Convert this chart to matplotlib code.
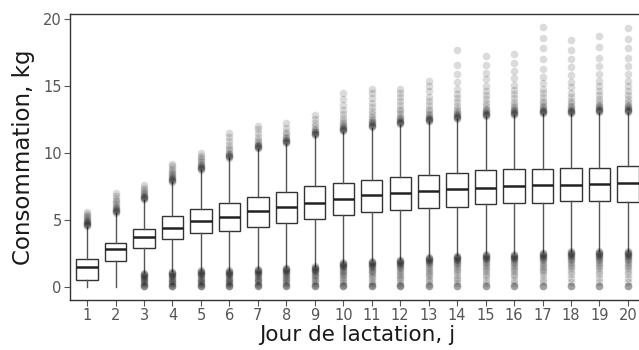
import matplotlib
matplotlib.use("Agg")
from matplotlib import pyplot as plt

# Jours de lactation et statistiques des boites (kg)
days = list(range(1, 21))
q1 = [0.55, 1.95, 2.9, 3.6, 4.0, 4.2, 4.5, 4.8, 5.1, 5.4,
      5.6, 5.75, 5.9, 6.0, 6.2, 6.3, 6.3, 6.4, 6.4, 6.35]
medians = [1.5, 2.8, 3.75, 4.4, 4.9, 5.25, 5.65, 5.95, 6.3, 6.55,
           6.85, 7.0, 7.15, 7.3, 7.4, 7.5, 7.6, 7.6, 7.7, 7.75]
q3 = [2.1, 3.3, 4.3, 5.3, 5.8, 6.3, 6.7, 7.1, 7.5, 7.75,
      8.0, 8.2, 8.35, 8.5, 8.7, 8.8, 8.8, 8.9, 8.9, 9.0]
whisker_low = [0.0, 0.0, 1.1, 1.2, 1.3, 1.3, 1.4, 1.5, 1.6, 1.9,
               2.0, 2.1, 2.3, 2.4, 2.5, 2.5, 2.6, 2.7, 2.7, 2.7]
whisker_high = [4.5, 5.5, 6.5, 7.8, 8.7, 9.6, 10.3, 10.7, 11.3, 11.6,
                11.9, 12.1, 12.3, 12.5, 12.7, 12.8, 12.9, 12.9, 13.0, 13.0]

# Valeurs aberrantes hautes
high_outliers = [
    [4.55, 4.6, 4.65, 4.7, 4.75, 4.8, 4.85, 4.9, 5.0, 5.1, 5.2, 5.3, 5.45, 5.6],
    [5.55, 5.6, 5.65, 5.7, 5.75, 5.8, 5.9, 6.0, 6.1, 6.25, 6.4, 6.6, 6.8, 7.0],
    [6.55, 6.6, 6.65, 6.7, 6.75, 6.8, 6.9, 7.0, 7.1, 7.25, 7.4, 7.6],
    [7.85, 7.9, 7.95, 8.0, 8.05, 8.1, 8.2, 8.3, 8.4, 8.5, 8.65, 8.8, 9.0, 9.2],
    [8.75, 8.8, 8.85, 8.9, 8.95, 9.0, 9.1, 9.2, 9.35, 9.5, 9.65, 9.8, 10.0],
    [9.65, 9.7, 9.75, 9.8, 9.85, 9.9, 10.0, 10.2, 10.4, 10.6, 10.9, 11.2, 11.5],
    [10.35, 10.4, 10.45, 10.5, 10.55, 10.6, 10.7, 10.8, 11.0, 11.2, 11.5, 11.8, 12.0],
    [10.75, 10.8, 10.85, 10.9, 10.95, 11.0, 11.1, 11.2, 11.4, 11.6, 11.9, 12.2],
    [11.35, 11.4, 11.45, 11.5, 11.55, 11.6, 11.7, 11.8, 12.0, 12.2, 12.5, 12.8],
    [11.65, 11.7, 11.75, 11.8, 11.85, 11.9, 12.0, 12.1, 12.2, 12.4, 12.6, 12.9, 13.2, 13.6, 14.0, 14.5],
    [11.95, 12.0, 12.05, 12.1, 12.15, 12.2, 12.3, 12.4, 12.5, 12.7, 12.9, 13.1, 13.4, 13.7, 14.1, 14.5, 14.8],
    [12.15, 12.2, 12.25, 12.3, 12.35, 12.4, 12.5, 12.6, 12.7, 12.9, 13.1, 13.3, 13.6, 13.9, 14.2, 14.5, 14.8],
    [12.35, 12.4, 12.45, 12.5, 12.55, 12.6, 12.7, 12.8, 12.9, 13.1, 13.3, 13.6, 13.9, 14.2, 14.6, 15.0, 15.4],
    [12.55, 12.6, 12.65, 12.7, 12.75, 12.8, 12.9, 13.0, 13.1, 13.3, 13.5, 13.8, 14.1, 14.4, 14.8, 15.3,
     15.9, 16.6, 17.7],
    [12.75, 12.8, 12.85, 12.9, 12.95, 13.0, 13.1, 13.2, 13.3, 13.5, 13.7, 14.0, 14.3, 14.6, 15.0, 15.5,
     16.0, 16.6, 17.2],
    [12.85, 12.9, 12.95, 13.0, 13.05, 13.1, 13.2, 13.3, 13.4, 13.6, 13.8, 14.1, 14.4, 14.7, 15.1, 15.6,
     16.1, 16.7, 17.4],
    [12.95, 13.0, 13.05, 13.1, 13.15, 13.2, 13.3, 13.4, 13.5, 13.7, 13.9, 14.2, 14.5, 14.8, 15.2, 15.7,
     16.3, 17.0, 17.8, 18.6, 19.4],
    [12.95, 13.0, 13.05, 13.1, 13.15, 13.2, 13.3, 13.4, 13.5, 13.7, 13.9, 14.2, 14.5, 14.9, 15.3, 15.8,
     16.4, 17.0, 17.7, 18.4],
    [13.05, 13.1, 13.15, 13.2, 13.25, 13.3, 13.4, 13.5, 13.6, 13.8, 14.0, 14.3, 14.6, 15.0, 15.4, 15.9,
     16.5, 17.1, 17.9, 18.7],
    [13.05, 13.1, 13.15, 13.2, 13.25, 13.3, 13.4, 13.5, 13.6, 13.8, 14.0, 14.3, 14.6, 15.0, 15.4, 15.9,
     16.5, 17.1, 17.8, 18.5, 19.3],
]

# Valeurs aberrantes basses
low_outliers = [
    [],
    [],
    [1.05, 1.0, 0.95, 0.9, 0.85, 0.8, 0.75, 0.7, 0.6, 0.5, 0.45, 0.4, 0.3, 0.2, 0.1, 0.05, 0.05, 0.05],
    [1.15, 1.1, 1.05, 1.0, 0.95, 0.9, 0.85, 0.8, 0.7, 0.6, 0.5, 0.45, 0.4, 0.3, 0.2, 0.1, 0.05, 0.05, 0.05],
    [1.25, 1.2, 1.15, 1.1, 1.05, 1.0, 0.95, 0.9, 0.8, 0.7, 0.6, 0.5, 0.45, 0.4, 0.3, 0.2, 0.1, 0.05, 0.05,
     0.05],
    [1.25, 1.2, 1.15, 1.1, 1.05, 1.0, 0.95, 0.9, 0.8, 0.7, 0.6, 0.5, 0.45, 0.4, 0.3, 0.2, 0.1, 0.05, 0.05,
     0.05],
    [1.35, 1.3, 1.25, 1.2, 1.15, 1.1, 1.05, 1.0, 0.9, 0.8, 0.7, 0.6, 0.5, 0.45, 0.35, 0.25, 0.15, 0.05, 0.05,
     0.05],
    [1.45, 1.4, 1.35, 1.3, 1.25, 1.2, 1.15, 1.1, 1.0, 0.9, 0.8, 0.7, 0.6, 0.5, 0.4, 0.3, 0.15, 0.05, 0.05,
     0.05],
    [1.55, 1.5, 1.45, 1.4, 1.35, 1.3, 1.25, 1.2, 1.1, 1.0, 0.9, 0.8, 0.7, 0.55, 0.45, 0.3, 0.15, 0.05, 0.05,
     0.05],
    [1.85, 1.8, 1.75, 1.7, 1.65, 1.6, 1.55, 1.5, 1.4, 1.3, 1.2, 1.1, 1.0, 0.9, 0.75, 0.6, 0.45, 0.3, 0.15,
     0.05, 0.05, 0.05],
    [1.95, 1.9, 1.85, 1.8, 1.75, 1.7, 1.65, 1.6, 1.5, 1.4, 1.3, 1.2, 1.1, 0.95, 0.8, 0.65, 0.45, 0.3, 0.15,
     0.05, 0.05, 0.05],
    [2.05, 2.0, 1.95, 1.9, 1.85, 1.8, 1.75, 1.7, 1.6, 1.5, 1.4, 1.3, 1.15, 1.0, 0.85, 0.7, 0.5, 0.3, 0.15,
     0.05, 0.05, 0.05],
    [2.25, 2.2, 2.15, 2.1, 2.05, 2.0, 1.95, 1.9, 1.8, 1.7, 1.6, 1.45, 1.3, 1.15, 1.0, 0.8, 0.6, 0.45, 0.25,
     0.05, 0.05, 0.05],
    [2.35, 2.3, 2.25, 2.2, 2.15, 2.1, 2.05, 2.0, 1.9, 1.8, 1.7, 1.55, 1.4, 1.25, 1.1, 0.9, 0.7, 0.5, 0.3,
     0.05, 0.05, 0.05],
    [2.45, 2.4, 2.35, 2.3, 2.25, 2.2, 2.15, 2.1, 2.0, 1.9, 1.8, 1.65, 1.5, 1.35, 1.2, 1.0, 0.8, 0.55, 0.3,
     0.05, 0.05, 0.05],
    [2.45, 2.4, 2.35, 2.3, 2.25, 2.2, 2.15, 2.1, 2.0, 1.9, 1.8, 1.65, 1.5, 1.35, 1.2, 1.0, 0.8, 0.55, 0.3,
     0.05, 0.05, 0.05],
    [2.55, 2.5, 2.45, 2.4, 2.35, 2.3, 2.25, 2.2, 2.1, 2.0, 1.9, 1.75, 1.6, 1.45, 1.3, 1.1, 0.9, 0.6, 0.35,
     0.05, 0.05, 0.05],
    [2.65, 2.6, 2.55, 2.5, 2.45, 2.4, 2.35, 2.3, 2.2, 2.1, 2.0, 1.85, 1.7, 1.55, 1.4, 1.2, 1.0, 0.7, 0.4,
     0.05, 0.05, 0.05],
    [2.65, 2.6, 2.55, 2.5, 2.45, 2.4, 2.35, 2.3, 2.2, 2.1, 2.0, 1.85, 1.7, 1.55, 1.4, 1.2, 1.0, 0.7, 0.4,
     0.05, 0.05, 0.05],
    [2.65, 2.6, 2.55, 2.5, 2.45, 2.4, 2.35, 2.3, 2.2, 2.1, 2.0, 1.85, 1.7, 1.55, 1.4, 1.2, 1.0, 0.7, 0.4,
     0.05, 0.05, 0.05],
]

# Build the stats dicts for bxp
stats = []
for i in range(len(days)):
    stats.append({
        'med': medians[i], 'q1': q1[i], 'q3': q3[i],
        'whislo': whisker_low[i], 'whishi': whisker_high[i],
        'fliers': high_outliers[i] + low_outliers[i],
    })

fig = plt.figure(figsize=(6.39, 3.5), dpi=100)
# axes reaches past the right edge, like the cropped original
ax = fig.add_axes([70 / 639, 50 / 350, 575 / 639, 286 / 350])

ax.bxp(stats, positions=days, widths=0.75, patch_artist=True, showcaps=False,
       boxprops=dict(facecolor='white', edgecolor='#333333', linewidth=1.0),
       medianprops=dict(color='#222222', linewidth=1.8),
       whiskerprops=dict(color='#555555', linewidth=1.0),
       flierprops=dict(marker='o', markerfacecolor='black', markeredgecolor='none',
                       markersize=5.5, alpha=0.14))

ax.set_xlim(0.4, 20.6)
ax.set_ylim(-0.97, 20.37)
ax.set_yticks([0, 5, 10, 15, 20])
ax.set_xticks(days)
ax.set_xticklabels([str(d) for d in days])

for side in ['left', 'bottom', 'top']:
    ax.spines[side].set_color('#333333')
    ax.spines[side].set_linewidth(1.0)
ax.spines['right'].set_visible(False)

ax.tick_params(direction='out', length=4, width=0.8, color='#555555',
               labelcolor='#555555', labelsize=10.5, pad=2)

ax.set_ylabel('Consommation, kg', fontsize=16.5, color='#1a1a1a', labelpad=6)
ax.set_xlabel('Jour de lactation, j', fontsize=15.5, color='#1a1a1a', labelpad=1)

plt.savefig('out.png', dpi=100)
